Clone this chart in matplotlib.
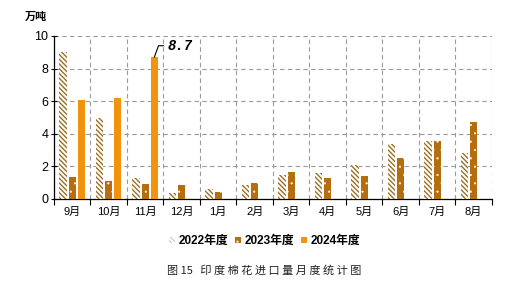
import matplotlib.pyplot as plt
import numpy as np
from matplotlib.patches import Patch

plt.rcParams['font.family'] = ['Liberation Sans', 'Noto Sans CJK SC']

months = ['9月', '10月', '11月', '12月', '1月', '2月', '3月', '4月', '5月', '6月', '7月', '8月']
y2022 = [9.0, 4.95, 1.3, 0.35, 0.6, 0.85, 1.45, 1.6, 2.1, 3.4, 3.55, 2.85]
y2023 = [1.35, 1.1, 0.9, 0.85, 0.45, 0.95, 1.65, 1.3, 1.4, 2.5, 3.55, 4.7]
y2024 = [6.1, 6.2, 8.7]
labels = ['2022年度', '2023年度', '2024年度']

c2022 = '#9C7024'
c2023 = '#B56D0E'
c2024 = '#F2930F'
hatch22 = '\\' * 7
hatch23 = '..'

fig = plt.figure(figsize=(5.21, 2.97), dpi=100)
ax = fig.add_axes([0.1036, 0.330, 0.8406, 0.549])

x = np.arange(len(months))
w = 0.2
plt.rcParams['hatch.linewidth'] = 1.0
ax.bar(x - 0.25, y2022, w, facecolor='white', edgecolor=c2022, hatch=hatch22, linewidth=0, zorder=3)
h22 = Patch(facecolor='white', edgecolor=c2022, hatch=hatch22, linewidth=0)
plt.rcParams['hatch.linewidth'] = 0.3
ax.bar(x, y2023, w, facecolor=c2023, edgecolor='white', hatch=hatch23, linewidth=0, zorder=3)
h23 = Patch(facecolor=c2023, edgecolor='white', hatch=hatch23, linewidth=0)
ax.bar(x[:len(y2024)] + 0.25, y2024, w, color=c2024, linewidth=0, zorder=3)
h24 = Patch(facecolor=c2024, linewidth=0)

ax.annotate('8.7', xy=(2.25, y2024[2]), xytext=(2.62, 9.4),
            fontsize=10, fontweight='bold', fontstyle='italic', family='Liberation Mono',
            va='center', ha='left',
            arrowprops=dict(arrowstyle='-', color='black', lw=0.8, shrinkA=1, shrinkB=0,
                            relpos=(0, 0.5),
                            connectionstyle='angle,angleA=0,angleB=70,rad=0'))

ax.set_xlim(-0.5, len(months) - 0.5)
ax.set_ylim(0, 10)
ax.set_yticks([0, 2, 4, 6, 8, 10])
ax.set_xticks(x)
ax.set_xticklabels(months, fontsize=8)
ax.set_xticks(np.arange(-0.5, len(months)), minor=True)
ax.tick_params(axis='x', which='major', length=0, pad=6)
ax.tick_params(axis='x', which='minor', length=4, direction='out', width=0.8)
ax.tick_params(axis='y', labelsize=9, length=4, direction='inout', width=0.8, pad=2)

ax.grid(axis='y', color='#9A9A9A', linestyle=(0, (4, 3)), linewidth=0.8, zorder=0)
ax.grid(axis='x', which='minor', color='#9A9A9A', linestyle=(0, (4, 3)), linewidth=0.8, zorder=0)
for s in ['top', 'right']:
    ax.spines[s].set_visible(False)
ax.spines['left'].set_linewidth(0.9)
ax.spines['bottom'].set_linewidth(0.9)

fig.text(0.048, 0.945, '万吨', fontsize=8, fontweight='bold', family='Noto Sans CJK SC', va='center')

fig.legend([h22, h23, h24], labels, loc='center', bbox_to_anchor=(0.508, 0.188), ncol=3, frameon=False,
           handlelength=0.5, handleheight=0.5, handletextpad=0.3, columnspacing=0.6,
           prop={'weight': 'bold', 'size': 8.5})

fig.text(0.508, 0.09, '图 15   印 度 棉 花 进 口 量 月 度 统 计 图', fontsize=8,
         family='Noto Sans CJK SC', ha='center', va='center', color='#222222')

fig.savefig('out.png', dpi=100)
